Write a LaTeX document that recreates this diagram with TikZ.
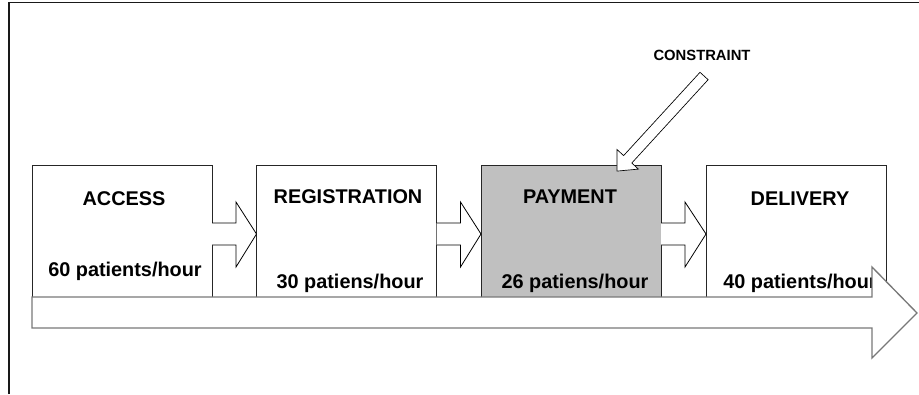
\documentclass[tikz,border=0pt]{standalone}
\usepackage{fontspec}
\setmainfont{Liberation Sans}
\usetikzlibrary{calc}
\definecolor{paygray}{RGB}{192,192,192}
\definecolor{flowgray}{RGB}{120,120,120}
\begin{document}
\begin{tikzpicture}[x=0.75pt,y=-0.75pt,
  stagebox/.style={draw=black!85,line width=0.7pt,fill=white,minimum width=135pt,minimum height=99pt,inner sep=0pt,outer sep=0pt},
  lbl/.style={font=\bfseries\fontsize{14.9}{17}\selectfont,anchor=base,inner sep=0pt},
  blk/.style={draw=black,line width=0.6pt,fill=white,line join=miter},
  bigarrow/.style={draw=flowgray,line width=1pt,fill=white,line join=miter},
  frameline/.style={draw=black!90,line width=1.3pt}]
\useasboundingbox (0,0) rectangle (919,394);
% frame
\draw[frameline] (9,394) -- (9,2.5) -- (919,2.5);
% stage boxes
\node[stagebox] (access) at (122,231) {};
\node[stagebox] (reg) at (346.5,231) {};
\node[stagebox,fill=paygray] (pay) at (571,231) {};
\node[stagebox] (deliv) at (796,231) {};
% labels
\node[lbl] (accT) at (124,205) {ACCESS};
\node[lbl] (accR) at (125,276) {60 patients/hour};
\node[lbl] (regT) at (348,203) {REGISTRATION};
\node[lbl] (regR) at (350,288) {30 patiens/hour};
\node[lbl] (payT) at (570,203) {PAYMENT};
\node[lbl] (payR) at (575,288) {26 patiens/hour};
\node[lbl] (delT) at (800,205) {DELIVERY};
\node[lbl] (delR) at (800,288) {40 patients/hour};
% block arrows between stages
\foreach \a/\b in {access/reg,reg/pay,pay/deliv}{
  \draw[blk] ($(\a.east)+(0,-8)$) -- ($(\a.east)+(24,-8)$) -- ($(\a.east)+(24,-29)$)
    -- ($(\b.west)+(0,3)$) -- ($(\a.east)+(24,36)$) -- ($(\a.east)+(24,14)$) -- ($(\a.east)+(0,14)$);
}
% big flow arrow
\coordinate (flowA) at (access.south west);
\draw[bigarrow] (flowA) -- (872,297) -- (872,267) -- (917,313) -- (872,358) -- (872,328) -- ($(flowA)+(0,31)$) -- cycle;
% constraint
\node[font=\bfseries\fontsize{11.1}{13}\selectfont,inner sep=0pt] (cons) at (702,55) {CONSTRAINT};
\coordinate (ctail) at (704,76);
\coordinate (ctip) at (616.9,171.1);
\draw[blk,line width=0.5pt] (708.1,79.7) -- (631.8,163.0) -- (638.4,169.1) -- (ctip) -- (617.0,149.5) -- (623.6,155.6) -- (700.0,72.3) -- cycle;
\end{tikzpicture}
\end{document}
